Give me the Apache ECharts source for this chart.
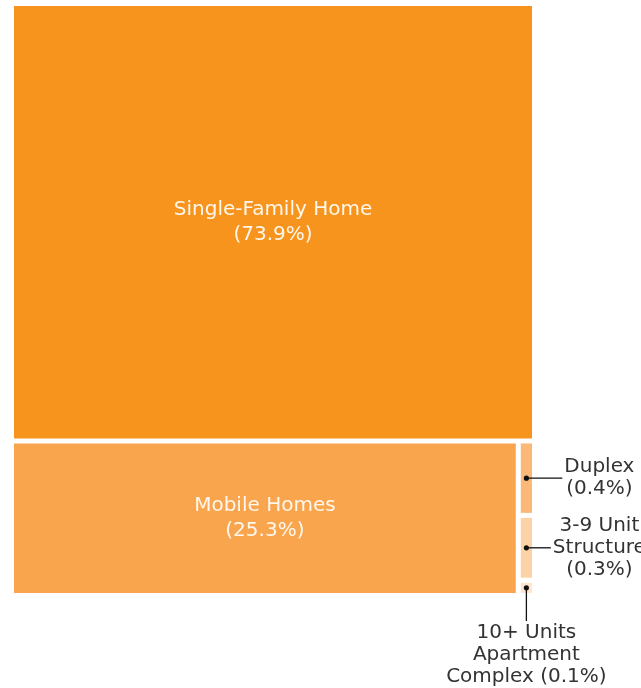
<!DOCTYPE html>
<html>
<head>
<meta charset="utf-8">
<script src="https://cdn.jsdelivr.net/npm/echarts@6/dist/echarts.min.js"></script>
<style>
  html, body { margin: 0; padding: 0; background: #fff; }
  #chart { width: 641px; height: 688px; }
</style>
</head>
<body>
<div id="chart"></div>
<script>
// housing type shares (%), tiny ones estimated from tile sizes
var housingTypes = ['Single-Family Home', 'Mobile Homes', 'Duplex', '3-9 Unit\nStructure', '10+ Units\nApartment\nComplex'];
var shares = [73.9, 25.3, 0.39, 0.34, 0.08];
// where the label goes: inside the tile, or pulled out with a leader line
var labelPlacement = ['inside', 'inside', 'right', 'right', 'bottom'];

var tileColors = ['#F7941E', '#F9A54E', '#FBB979', '#FCD3A6', '#FDE6CD'];
var fontFamily = 'DejaVu Sans';

function labelText(i) {
    var pct = '(' + shares[i].toFixed(1) + '%)';
    return labelPlacement[i] === 'bottom' ? housingTypes[i] + ' ' + pct : housingTypes[i] + '\n' + pct;
}

var chart = echarts.init(document.getElementById('chart'));

chart.setOption({
    backgroundColor: '#fff',
    animation: false,
    series: [{
        type: 'treemap',
        left: 14,
        top: 6,
        width: 518,
        height: 587,
        roam: false,
        nodeClick: false,
        breadcrumb: { show: false },
        levels: [{ itemStyle: { borderWidth: 0, gapWidth: 5 } }],
        itemStyle: { borderWidth: 0 },
        label: {
            show: true,
            position: 'inside',
            color: '#FFF7EC',
            fontFamily: fontFamily,
            fontSize: 20,
            lineHeight: 25,
            formatter: function (p) { return labelText(housingTypes.indexOf(p.name)); }
        },
        emphasis: { disabled: true },
        data: housingTypes.map(function (name, i) {
            return {
                name: name,
                value: shares[i],
                itemStyle: { color: tileColors[i] },
                label: { show: labelPlacement[i] === 'inside' }
            };
        })
    }]
});

// leader lines + outside labels for the tiny tiles, placed from the treemap's own layout
var calloutFont = '20px ' + fontFamily;
var measureCtx = document.createElement('canvas').getContext('2d');
measureCtx.font = calloutFont;

var calloutsDrawn = false;
chart.on('finished', function () {
    if (calloutsDrawn) return;
    calloutsDrawn = true;

    var seriesModel = chart.getModel().getSeriesByIndex(0);
    var root = seriesModel.getData().tree.root;
    var info = seriesModel.layoutInfo;
    var rl = root.getLayout();
    var elements = [];

    root.children.forEach(function (node) {
        var i = housingTypes.indexOf(node.name);
        var side = labelPlacement[i];
        if (side === 'inside') return;
        var l = node.getLayout();
        var x0 = info.x + rl.x + l.x, y0 = info.y + rl.y + l.y;
        var cx = x0 + l.width / 2, cy = y0 + l.height / 2;
        var txt = labelText(i);
        var lineStyle = { stroke: '#111', lineWidth: 1.3 };

        elements.push({ type: 'circle', shape: { cx: cx, cy: cy, r: 2.6 }, style: { fill: '#111' }, z: 10 });
        if (side === 'right') {
            var maxW = Math.max.apply(null, txt.split('\n').map(function (s) { return measureCtx.measureText(s).width; }));
            var tx = cx + 73;
            elements.push({ type: 'line', shape: { x1: cx, y1: cy, x2: tx - maxW / 2 - 2, y2: cy }, style: lineStyle, z: 10 });
            elements.push({ type: 'text', x: tx, y: cy, style: {
                text: txt, fill: '#333', font: calloutFont, lineHeight: 22,
                align: 'center', verticalAlign: 'middle'
            }, z: 10 });
        } else {
            var yEnd = y0 + l.height + 28;
            elements.push({ type: 'line', shape: { x1: cx, y1: cy, x2: cx, y2: yEnd }, style: lineStyle, z: 10 });
            elements.push({ type: 'text', x: cx, y: yEnd + 1, style: {
                text: txt, fill: '#333', font: calloutFont, lineHeight: 22,
                align: 'center', verticalAlign: 'top'
            }, z: 10 });
        }
    });

    chart.setOption({ graphic: elements });
});
</script>
</body>
</html>
